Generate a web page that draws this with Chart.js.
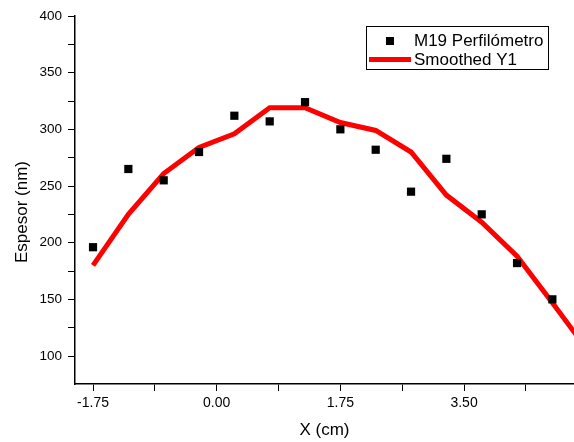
<!DOCTYPE html>
<html lang="en">
<head>
    <meta charset="UTF-8">
    <title>Espesor vs X</title>
    <script src="https://cdn.jsdelivr.net/npm/chart.js"></script>
    <style>
        html, body { margin: 0; padding: 0; background: #fff; }
        #wrap { width: 574px; height: 442px; position: relative; }
    </style>
</head>
<body>
    <div id="wrap"><canvas id="espesorChart"></canvas></div>

    <script>
        // measured points (cm, nm)
        const xValues = [-1.75, -1.25, -0.75, -0.25, 0.25, 0.75, 1.25, 1.75, 2.25, 2.75, 3.25, 3.75, 4.25, 4.75];
        const m19Values = [196, 265, 255, 280, 312, 307, 324, 300, 282, 245, 274, 225, 182, 150];
        // smoothed curve, last point falls outside the visible range
        const smoothX = [-1.75, -1.25, -0.75, -0.25, 0.25, 0.75, 1.25, 1.75, 2.25, 2.75, 3.25, 3.75, 4.25, 4.75, 5.25];
        const smoothValues = [180, 225, 261, 284, 296, 319, 319, 306, 299, 280, 242, 218, 188, 147, 105];

        const xMajorTicks = [-1.75, 0, 1.75, 3.5];
        const xMinorTicks = [-0.875, 0.875, 2.625, 4.375];
        const yMajorTicks = [100, 150, 200, 250, 300, 350, 400];
        const yMinorTicks = [125, 175, 225, 275, 325, 375];

        const seriesNames = ['M19 Perfilómetro', 'Smoothed Y1'];
        const xTitle = 'X (cm)';
        const yTitle = 'Espesor (nm)';

        const FONT = '"Liberation Sans", Arial, sans-serif';

        const toPoints = (xs, ys) => xs.map((x, i) => ({ x: x, y: ys[i] }));

        // y title and the boxed legend are drawn by hand (Origin style)
        const overlay = {
            id: 'overlay',
            afterDraw(chart) {
                const ctx = chart.ctx;
                const ds = chart.data.datasets;
                ctx.save();
                ctx.fillStyle = '#000';
                ctx.font = '17px ' + FONT;
                ctx.textBaseline = 'middle';

                ctx.save();
                ctx.textAlign = 'center';
                ctx.translate(22, 212);
                ctx.rotate(-Math.PI / 2);
                ctx.fillText(yTitle, 0, 0);
                ctx.restore();

                // legend box
                ctx.strokeStyle = '#000';
                ctx.lineWidth = 1;
                ctx.strokeRect(366.5, 26.5, 182, 43);

                ctx.fillStyle = '#000';
                ctx.fillRect(386, 37, 8, 8);
                ctx.strokeStyle = ds[1].borderColor;
                ctx.lineWidth = 5;
                ctx.beginPath();
                ctx.moveTo(369, 59.5);
                ctx.lineTo(411, 59.5);
                ctx.stroke();

                ctx.fillStyle = '#000';
                ctx.textAlign = 'left';
                ctx.fillText(ds[0].label, 414, 41);
                ctx.fillText(ds[1].label, 414, 60);
                ctx.restore();
            }
        };

        const ctx = document.getElementById('espesorChart').getContext('2d');
        new Chart(ctx, {
            type: 'scatter',
            data: {
                datasets: [
                    {
                        label: seriesNames[0],
                        data: toPoints(xValues, m19Values),
                        pointStyle: 'rect',
                        pointRadius: 5.8,
                        backgroundColor: '#000',
                        borderColor: '#000',
                        borderWidth: 0,
                        showLine: false
                    },
                    {
                        label: seriesNames[1],
                        data: toPoints(smoothX, smoothValues),
                        showLine: true,
                        borderColor: '#ff0000',
                        borderWidth: 5,
                        pointRadius: 0,
                        tension: 0
                    }
                ]
            },
            options: {
                responsive: true,
                maintainAspectRatio: false,
                animation: false,
                layout: { autoPadding: false, padding: { top: 16, right: 0, bottom: 0, left: 0 } },
                plugins: {
                    legend: { display: false },
                    tooltip: { enabled: false }
                },
                scales: {
                    x: {
                        type: 'linear',
                        min: -2.005,
                        max: 5.056,
                        afterFit: s => { s.height = 58; s.paddingRight = 0; s.paddingLeft = 0; },
                        afterBuildTicks: s => {
                            s.ticks = xMajorTicks.concat(xMinorTicks).sort((a, b) => a - b).map(v => ({ value: v }));
                        },
                        grid: { drawOnChartArea: false, drawTicks: true, tickLength: 7, tickColor: '#000', tickWidth: 1 },
                        border: { display: true, color: '#000', width: 1.5 },
                        ticks: {
                            autoSkip: false,
                            maxRotation: 0,
                            padding: 4,
                            color: '#000',
                            font: { family: FONT, size: 14 },
                            callback: v => xMajorTicks.includes(v) ? v.toFixed(2) : ''
                        },
                        title: {
                            display: true,
                            text: xTitle,
                            color: '#000',
                            font: { family: FONT, size: 17, lineHeight: 1.2 },
                            padding: { top: 0, bottom: 1 }
                        }
                    },
                    y: {
                        min: 75.3,
                        max: 400,
                        afterFit: s => { s.width = 75; },
                        afterBuildTicks: s => {
                            s.ticks = yMajorTicks.concat(yMinorTicks).sort((a, b) => a - b).map(v => ({ value: v }));
                        },
                        grid: { drawOnChartArea: false, drawTicks: true, tickLength: 7, tickColor: '#000', tickWidth: 1 },
                        border: { display: true, color: '#000', width: 1.5 },
                        ticks: {
                            autoSkip: false,
                            padding: 6,
                            color: '#000',
                            font: { family: FONT, size: 13.5 },
                            callback: v => yMajorTicks.includes(v) ? String(v) : ''
                        }
                    }
                }
            },
            plugins: [overlay]
        });
    </script>
</body>
</html>
